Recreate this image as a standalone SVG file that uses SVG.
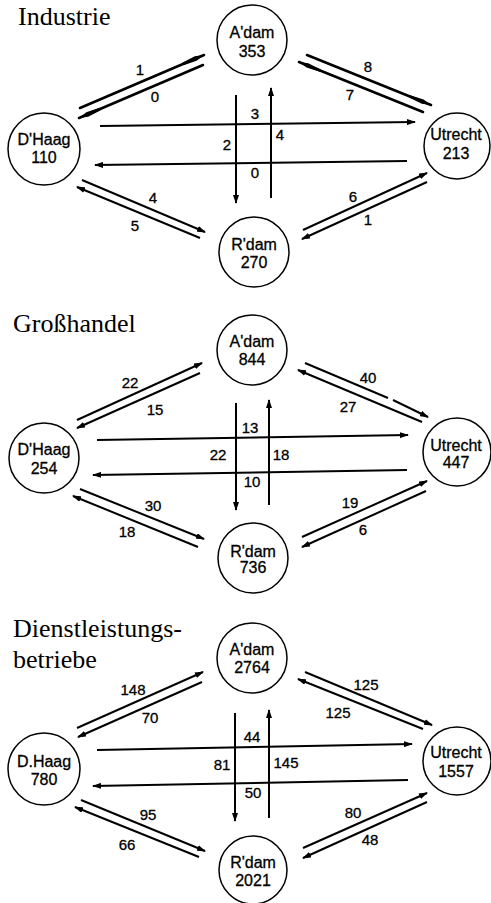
<svg xmlns="http://www.w3.org/2000/svg" width="491" height="903" viewBox="0 0 491 903">
<style>
.title{font-family:"Liberation Serif",serif;font-size:26px;fill:#000}
.nt{font-family:"Liberation Sans",Arial,sans-serif;font-size:16px;text-anchor:middle;fill:#000;stroke:#000;stroke-width:0.3}
.lb{font-family:"Liberation Sans",Arial,sans-serif;font-size:15px;text-anchor:middle;fill:#000;stroke:#000;stroke-width:0.3}
circle{fill:#fff;stroke:#000;stroke-width:1.5}
.c line{stroke:#000;stroke-width:2;fill:none}
.c .a{marker-end:url(#ah)}
.c .t{stroke-width:2.6;stroke-linecap:round;marker-end:url(#lh)}
</style>
<defs>
<marker id="ah" markerWidth="9" markerHeight="6" refX="8" refY="3" orient="auto" markerUnits="userSpaceOnUse">
<path d="M0,0 L9,3 L0,6 z" fill="#000"/>
</marker>
<marker id="lh" markerWidth="24" markerHeight="6" refX="23" refY="3" orient="auto" markerUnits="userSpaceOnUse">
<path d="M0,1.7 L14,0.6 L23,3 L14,5.4 L0,4.3 z" fill="#000"/>
</marker>
</defs>
<rect width="491" height="903" fill="#fff"/>

<text class="title" x="18" y="25">Industrie</text>
<text class="title" x="13" y="332">Großhandel</text>
<text class="title" x="13" y="637">Dienstleistungs-</text>
<text class="title" x="13" y="668">betriebe</text>

<g class="c" id="connectors">
<!-- panel 1 -->
<line class="t" x1="80" y1="108" x2="204" y2="55"/>
<line class="t" x1="203" y1="65" x2="79" y2="118"/>
<line class="t" x1="307" y1="55" x2="431" y2="105"/>
<line class="t" x1="423" y1="112" x2="299" y2="62"/>
<line class="a" x1="82" y1="180" x2="205" y2="232"/>
<line class="a" x1="200" y1="238" x2="77" y2="187"/>
<line class="a" x1="303" y1="230" x2="427" y2="173"/>
<line class="a" x1="427" y1="182" x2="302" y2="239"/>
<line class="a" x1="100" y1="126" x2="415" y2="122"/>
<line class="a" x1="407" y1="161" x2="95" y2="165"/>
<line class="a" x1="236" y1="95" x2="236" y2="203"/>
<line class="a" x1="271" y1="198" x2="271" y2="88"/>
<!-- panel 2 -->
<line class="a" x1="77" y1="420" x2="202" y2="363"/>
<line class="a" x1="200" y1="373" x2="77" y2="428"/>
<line x1="305" y1="363" x2="388" y2="398"/>
<line class="a" x1="393" y1="400" x2="428" y2="417"/>
<line class="a" x1="422" y1="422" x2="298" y2="370"/>
<line class="a" x1="80" y1="489" x2="204" y2="539"/>
<line class="a" x1="198" y1="547" x2="73" y2="496"/>
<line class="a" x1="302" y1="537" x2="427" y2="481"/>
<line class="a" x1="426" y1="491" x2="302" y2="547"/>
<line class="a" x1="97" y1="440" x2="408" y2="435"/>
<line class="a" x1="407" y1="470" x2="93" y2="475"/>
<line class="a" x1="236" y1="403" x2="236" y2="510"/>
<line class="a" x1="269" y1="505" x2="269" y2="400"/>
<!-- panel 3 -->
<line class="a" x1="77" y1="728" x2="203" y2="672"/>
<line class="a" x1="202" y1="682" x2="78" y2="737"/>
<line class="a" x1="305" y1="672" x2="432" y2="725"/>
<line class="a" x1="423" y1="729" x2="298" y2="679"/>
<line class="a" x1="81" y1="800" x2="205" y2="851"/>
<line class="a" x1="199" y1="857" x2="75" y2="807"/>
<line class="a" x1="303" y1="848" x2="427" y2="793"/>
<line class="a" x1="427" y1="802" x2="303" y2="858"/>
<line class="a" x1="97" y1="750" x2="412" y2="744"/>
<line class="a" x1="408" y1="780" x2="93" y2="786"/>
<line class="a" x1="235" y1="713" x2="235" y2="821"/>
<line class="a" x1="269" y1="818" x2="269" y2="710"/>
</g>

<g id="labels">
<text class="lb" x="140" y="75">1</text>
<text class="lb" x="155" y="102">0</text>
<text class="lb" x="368" y="72">8</text>
<text class="lb" x="350" y="100">7</text>
<text class="lb" x="255" y="119">3</text>
<text class="lb" x="227" y="150">2</text>
<text class="lb" x="280" y="140">4</text>
<text class="lb" x="255" y="178">0</text>
<text class="lb" x="153" y="203">4</text>
<text class="lb" x="135" y="231">5</text>
<text class="lb" x="353" y="202">6</text>
<text class="lb" x="368" y="225">1</text>

<text class="lb" x="130" y="388">22</text>
<text class="lb" x="155" y="415">15</text>
<text class="lb" x="368" y="383">40</text>
<text class="lb" x="348" y="412">27</text>
<text class="lb" x="250" y="433">13</text>
<text class="lb" x="218" y="460">22</text>
<text class="lb" x="281" y="460">18</text>
<text class="lb" x="252" y="487">10</text>
<text class="lb" x="153" y="511">30</text>
<text class="lb" x="127" y="537">18</text>
<text class="lb" x="350" y="508">19</text>
<text class="lb" x="363" y="535">6</text>

<text class="lb" x="133" y="695">148</text>
<text class="lb" x="150" y="723">70</text>
<text class="lb" x="366" y="690">125</text>
<text class="lb" x="338" y="718">125</text>
<text class="lb" x="252" y="742">44</text>
<text class="lb" x="222" y="770">81</text>
<text class="lb" x="286" y="768">145</text>
<text class="lb" x="253" y="798">50</text>
<text class="lb" x="148" y="820">95</text>
<text class="lb" x="127" y="850">66</text>
<text class="lb" x="353" y="818">80</text>
<text class="lb" x="370" y="845">48</text>
</g>

<g id="p1-adam"><circle cx="252" cy="40" r="35"/><text class="nt" x="252" y="38">A'dam</text><text class="nt" x="252" y="57">353</text></g>
<g id="p1-dhaag"><circle cx="44" cy="149" r="36"/><text class="nt" x="44" y="145">D'Haag</text><text class="nt" x="44" y="163">110</text></g>
<g id="p1-utrecht"><circle cx="457" cy="146" r="33"/><text class="nt" x="456" y="140">Utrecht</text><text class="nt" x="456" y="159">213</text></g>
<g id="p1-rdam"><circle cx="254" cy="252" r="35"/><text class="nt" x="254" y="250">R'dam</text><text class="nt" x="254" y="268">270</text></g>

<g id="p2-adam"><circle cx="252" cy="350" r="35"/><text class="nt" x="252" y="347">A'dam</text><text class="nt" x="252" y="365">844</text></g>
<g id="p2-dhaag"><circle cx="44" cy="458" r="35"/><text class="nt" x="44" y="455">D'Haag</text><text class="nt" x="44" y="474">254</text></g>
<g id="p2-utrecht"><circle cx="457" cy="452" r="34"/><text class="nt" x="456" y="451">Utrecht</text><text class="nt" x="456" y="468">447</text></g>
<g id="p2-rdam"><circle cx="253" cy="558" r="35"/><text class="nt" x="253" y="557">R'dam</text><text class="nt" x="253" y="573">736</text></g>

<g id="p3-adam"><circle cx="252" cy="658" r="35"/><text class="nt" x="252" y="655">A'dam</text><text class="nt" x="252" y="673">2764</text></g>
<g id="p3-dhaag"><circle cx="44" cy="769" r="36"/><text class="nt" x="44" y="767">D.Haag</text><text class="nt" x="44" y="785">780</text></g>
<g id="p3-utrecht"><circle cx="457" cy="761" r="34"/><text class="nt" x="456" y="758">Utrecht</text><text class="nt" x="456" y="777">1557</text></g>
<g id="p3-rdam"><circle cx="253" cy="870" r="34"/><text class="nt" x="253" y="868">R'dam</text><text class="nt" x="253" y="886">2021</text></g>
</svg>
